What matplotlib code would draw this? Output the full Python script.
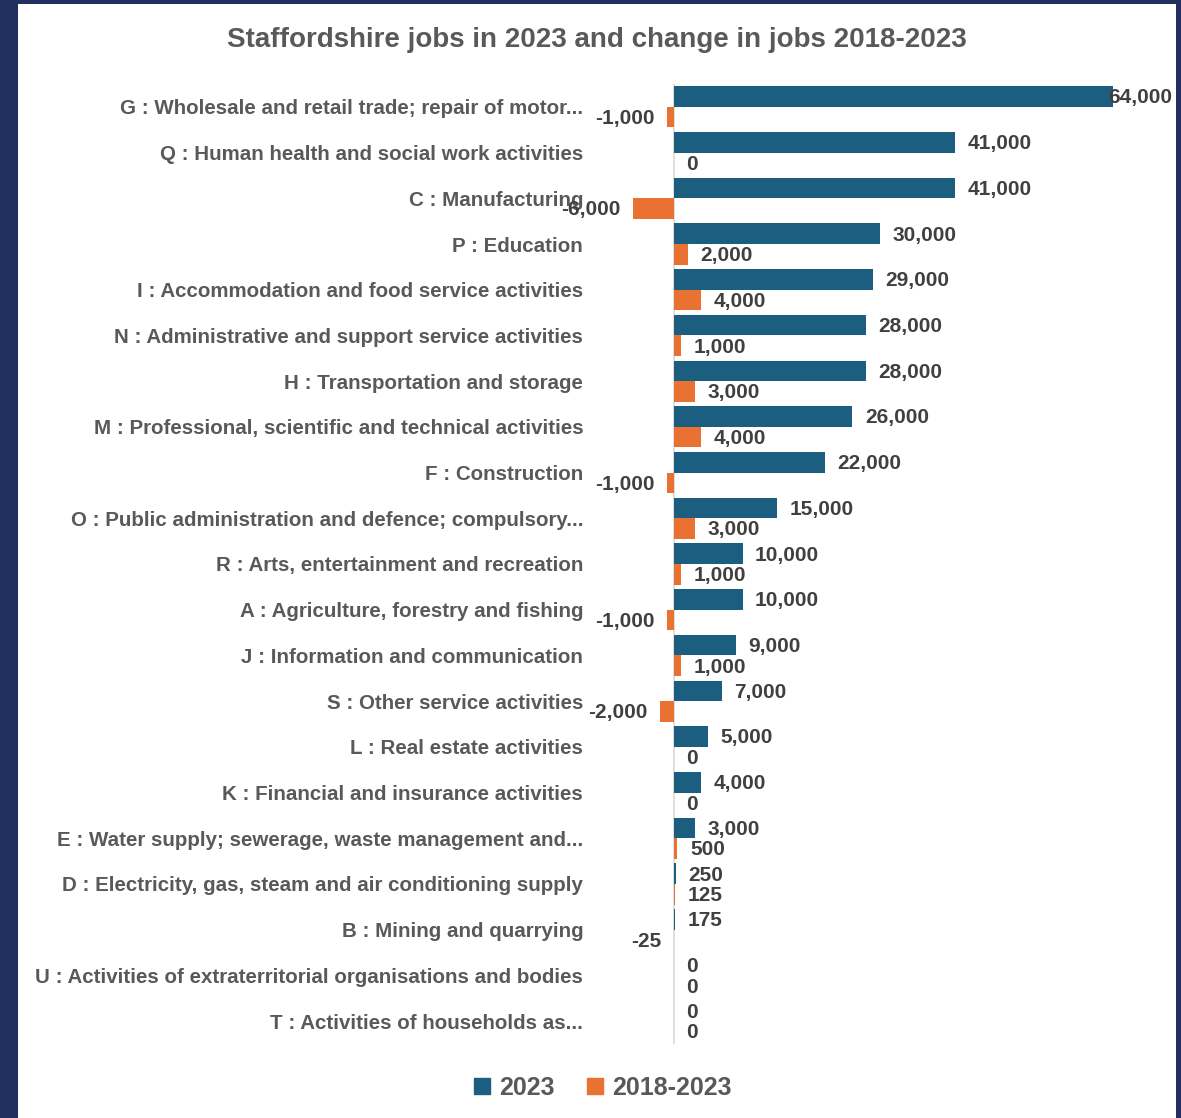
import matplotlib
matplotlib.use("Agg")
import matplotlib.pyplot as plt
from matplotlib.patches import Rectangle
from matplotlib.lines import Line2D

plt.rcParams['font.family'] = ['Liberation Sans', 'DejaVu Sans']

# data (top to bottom)
categories = [
    "G : Wholesale and retail trade; repair of motor...",
    "Q : Human health and social work activities",
    "C : Manufacturing",
    "P : Education",
    "I : Accommodation and food service activities",
    "N : Administrative and support service activities",
    "H : Transportation and storage",
    "M : Professional, scientific and technical activities",
    "F : Construction",
    "O : Public administration and defence; compulsory...",
    "R : Arts, entertainment and recreation",
    "A : Agriculture, forestry and fishing",
    "J : Information and communication",
    "S : Other service activities",
    "L : Real estate activities",
    "K : Financial and insurance activities",
    "E : Water supply; sewerage, waste management and...",
    "D : Electricity, gas, steam and air conditioning supply",
    "B : Mining and quarrying",
    "U : Activities of extraterritorial organisations and bodies",
    "T : Activities of households as...",
]
jobs_2023 = [64000, 41000, 41000, 30000, 29000, 28000, 28000, 26000, 22000, 15000,
             10000, 10000, 9000, 7000, 5000, 4000, 3000, 250, 175, 0, 0]
change_2018_2023 = [-1000, 0, -6000, 2000, 4000, 1000, 3000, 4000, -1000, 3000,
                    1000, -1000, 1000, -2000, 0, 0, 500, 125, -25, 0, 0]

BLUE = "#1B5E80"
ORANGE = "#E97132"
TEXT = "#595959"
LABEL = "#404040"
NAVY = "#22305F"

W, H = 1181, 1118
fig = plt.figure(figsize=(W / 100, H / 100), dpi=100, facecolor=NAVY)
# white chart area inside the navy frame
fig.patches.append(Rectangle((18 / W, 0), (1176 - 18) / W, (H - 4) / H,
                             transform=fig.transFigure, facecolor="white",
                             edgecolor="none", zorder=-5))

xmin, xmax = -10000, 70000
zero_px, scale = 674, 439 / 64000
left_px = zero_px + xmin * scale
right_px = zero_px + xmax * scale
top_px, bot_px = 84, 1044
ax = fig.add_axes([left_px / W, 1 - bot_px / H, (right_px - left_px) / W, (bot_px - top_px) / H])
ax.set_facecolor("none")

n = len(categories)
pos = list(range(n))
bh = 0.45
ax.barh([p - bh / 2 for p in pos], jobs_2023, height=bh, color=BLUE, label="2023")
ax.barh([p + bh / 2 for p in pos], change_2018_2023, height=bh, color=ORANGE, label="2018-2023")
ax.axvline(0, color="#D9D9D9", lw=1.2, zorder=0)

ax.set_xlim(xmin, xmax)
ax.set_ylim(n - 0.5, -0.5)
ax.set_xticks([])
ax.set_yticks(pos)
ax.set_yticklabels(categories, fontsize=14.8, fontweight="bold", color=TEXT)
ax.tick_params(axis="y", length=0, pad=16)
for s in ax.spines.values():
    s.set_visible(False)


def bar_label(v, y):
    txt = f"{v:,}"
    off, ha = (-9, "right") if v < 0 else (9, "left")
    return ax.annotate(txt, (v, y), xytext=(off, -1), textcoords="offset points",
                       ha=ha, va="center", fontsize=15, fontweight="bold",
                       color=LABEL, annotation_clip=False)


labels = []
for p, v in zip(pos, jobs_2023):
    labels.append(bar_label(v, p - bh / 2))
for p, v in zip(pos, change_2018_2023):
    bar_label(v, p + bh / 2)

# keep labels inside the chart area like Excel does
fig.canvas.draw()
r = fig.canvas.get_renderer()
for t in labels:
    bb = t.get_window_extent(r)
    if bb.x1 > 1172:
        dx, dy = t.xyann
        t.xyann = (dx - (bb.x1 - 1172) * 0.72, dy)

fig.text(597 / W, 1 - 40 / H, "Staffordshire jobs in 2023 and change in jobs 2018-2023",
         ha="center", va="center", fontsize=20, fontweight="bold", color=TEXT)

handles = [Line2D([], [], marker="s", ls="", color=BLUE, markersize=12),
           Line2D([], [], marker="s", ls="", color=ORANGE, markersize=12)]
fig.legend(handles, ["2023", "2018-2023"], loc="center", bbox_to_anchor=(602 / W, 1 - 1088 / H),
           ncol=2, frameon=False, handlelength=0.8, handletextpad=0.3, columnspacing=1.2,
           prop={"size": 18, "weight": "bold"}, labelcolor=TEXT)

fig.savefig("out.png", dpi=100, facecolor=NAVY)
